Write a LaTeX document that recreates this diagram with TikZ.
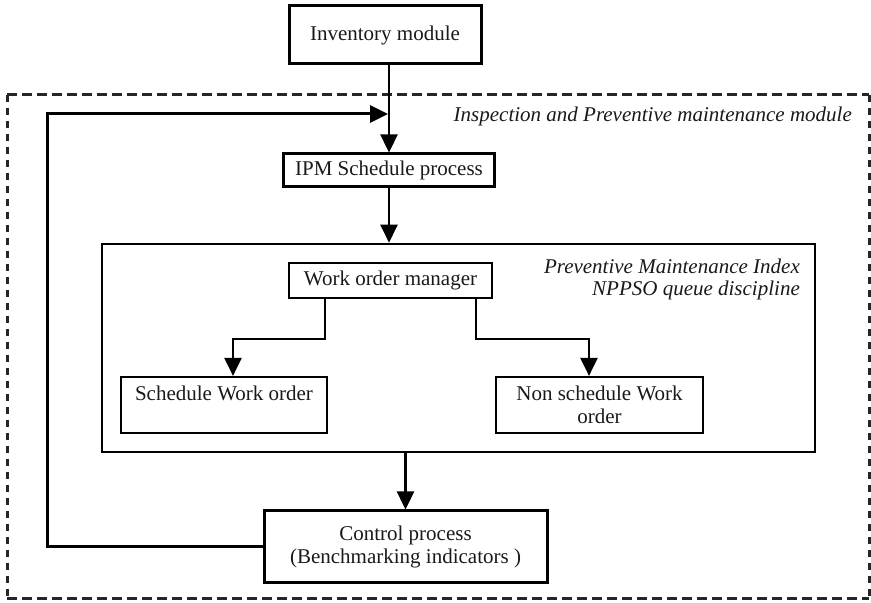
\documentclass[tikz,border=0pt]{standalone}
\usepackage{fontspec}
\setmainfont{Liberation Serif}
\usetikzlibrary{arrows.meta}
\newcommand\diagfont{\fontsize{21}{23}\selectfont}
\newcommand\notefont{\fontsize{21}{22}\selectfont\itshape}
\begin{document}
\begin{tikzpicture}[x=1pt,y=1pt,
  every node/.style={font=\diagfont, text=black!90},
  procbox/.style={draw=black, line width=3pt, inner sep=0pt, align=center},
  taskbox/.style={draw=black, line width=2.2pt, inner sep=0pt, align=center},
  groupbox/.style={draw=black, line width=2.6pt, inner sep=0pt},
  flow/.style={draw=black, line width=2.4pt, -{Triangle[length=18pt,width=17pt]}},
  loopline/.style={flow, line width=3pt},
  note/.style={font=\notefont, inner sep=0pt, align=right},
  dashh/.style={draw=black!85, line width=3pt, dash pattern=on 10pt off 5pt},
  dashv/.style={draw=black!85, line width=3pt, dash pattern=on 7pt off 6pt},
]
\useasboundingbox (0,0) rectangle (871,603);

% outer dashed module frame
\coordinate (dtl) at (7,508);
\coordinate (dtr) at (869,508);
\coordinate (dbl) at (7,4);
\coordinate (dbr) at (869,4);
\draw[dashh] (dtl) -- (dtr);
\draw[dashh] (dbl) -- (dbr);
\draw[dashv] (dtl) -- (dbl);
\draw[dashv] (dtr) -- (dbr);

% process boxes
\node[procbox, minimum width=192, minimum height=58] (inv) at (385,568) {Inventory module};
\node[procbox, minimum width=211, minimum height=33] (ipm) at (389,432.5) {IPM Schedule process};
\node[groupbox, minimum width=713, minimum height=208] (pmi) at (458.5,255) {};
\node[taskbox, minimum width=203, minimum height=35] (wom) at (390.5,322.5) {Work order manager};
\node[taskbox, minimum width=206, minimum height=56] (sched) at (224,198) {Schedule Work order\\\mbox{}};
\node[taskbox, minimum width=207, minimum height=56] (nsched) at (599.5,198) {Non schedule Work\\order};
\node[procbox, minimum width=283, minimum height=72] (ctrl) at (405.5,56) {Control process\\(Benchmarking indicators )};

% module captions
\node[note, anchor=base east] (imlabel) at (852,481) {Inspection and Preventive maintenance module};
\node[note, anchor=north east] (pmilabel) at (800,344.5) {Preventive Maintenance Index\\NPPSO queue discipline};

% main flow
\draw[flow] (inv.south -| ipm.north) -- (ipm.north);
\draw[flow] (ipm.south) -- (ipm.south |- pmi.north);
\draw[flow] (pmi.south -| ctrl.north) -- (ctrl.north);

% work order branches
\draw[flow] ([xshift=-65.5pt]wom.south) -- ++(0,-40) -| ([xshift=9pt]sched.north);
\draw[flow] ([xshift=85.5pt]wom.south) -- ++(0,-40) -| ([xshift=-10.5pt]nsched.north);

% feedback loop from control back to scheduling
\coordinate (looptop) at (47,489);
\coordinate (merge) at (388,489);
\draw[loopline] (ctrl.west) -| (looptop) -- (merge);
\end{tikzpicture}
\end{document}
